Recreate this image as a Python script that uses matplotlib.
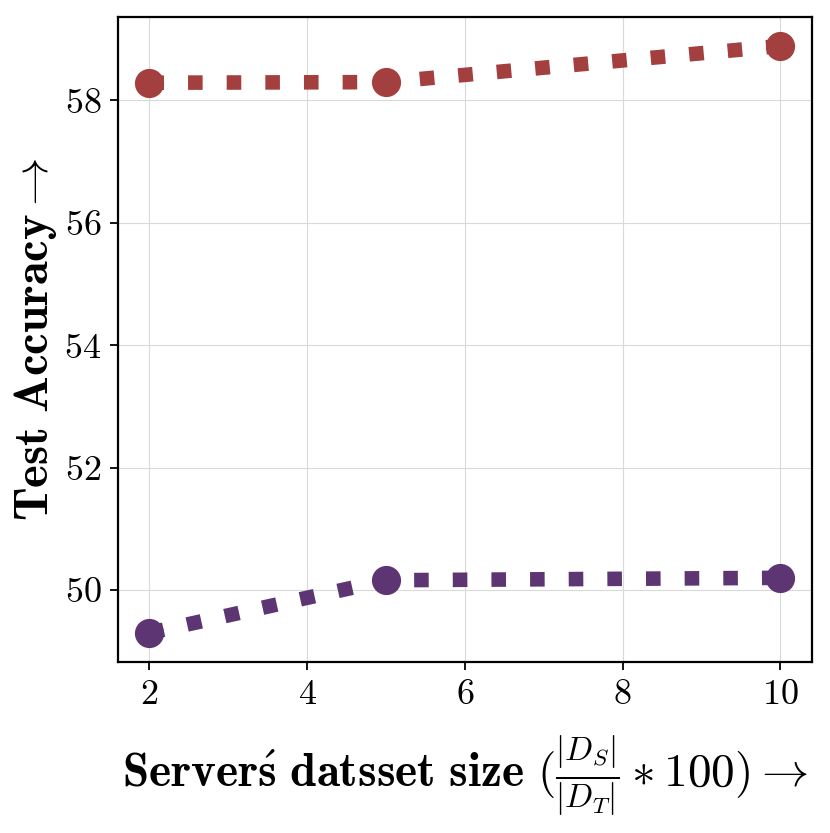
import numpy as np
import matplotlib
matplotlib.use('Agg')
import matplotlib.pyplot as plt

plt.rcParams['mathtext.fontset'] = 'cm'
plt.rcParams['font.family'] = 'serif'
plt.rcParams['font.serif'] = ['cmr10']
plt.rcParams['axes.formatter.use_mathtext'] = True

sizes = [2, 5, 10]
acc_red = [58.29, 58.30, 58.89]
acc_purple = [49.30, 50.16, 50.20]

red = '#a33f3e'
purple = '#5e3573'

fig, ax = plt.subplots(figsize=(8.3, 8.33), dpi=100)
fig.subplots_adjust(left=0.142, right=0.978, top=0.980, bottom=0.205)

for vals, c in [(acc_red, red), (acc_purple, purple)]:
    ax.plot(sizes, vals, linestyle=':', linewidth=10.5, color=c,
            dash_capstyle='butt', zorder=2)
    ax.plot(sizes, vals, linestyle='none', marker='o', markersize=20,
            color=c, zorder=3)

ax.set_xticks([2, 4, 6, 8, 10])
ax.set_yticks([50, 52, 54, 56, 58])
ax.tick_params(labelsize=26, width=1.3, length=6, pad=6)
ax.grid(True, color='#d9d9d9', linewidth=0.8)
ax.set_axisbelow(True)
for s in ax.spines.values():
    s.set_linewidth(1.6)

ax.set_xlabel(r'$\mathbf{Server\acute{s}\ datsset\ size}\ (\frac{|D_S|}{|D_T|} * 100) \rightarrow$',
              fontsize=34, labelpad=16)
ax.set_ylabel(r'$\mathbf{Test\ Accuracy} \rightarrow$', fontsize=35, labelpad=4)

plt.savefig('out.png', dpi=100)
